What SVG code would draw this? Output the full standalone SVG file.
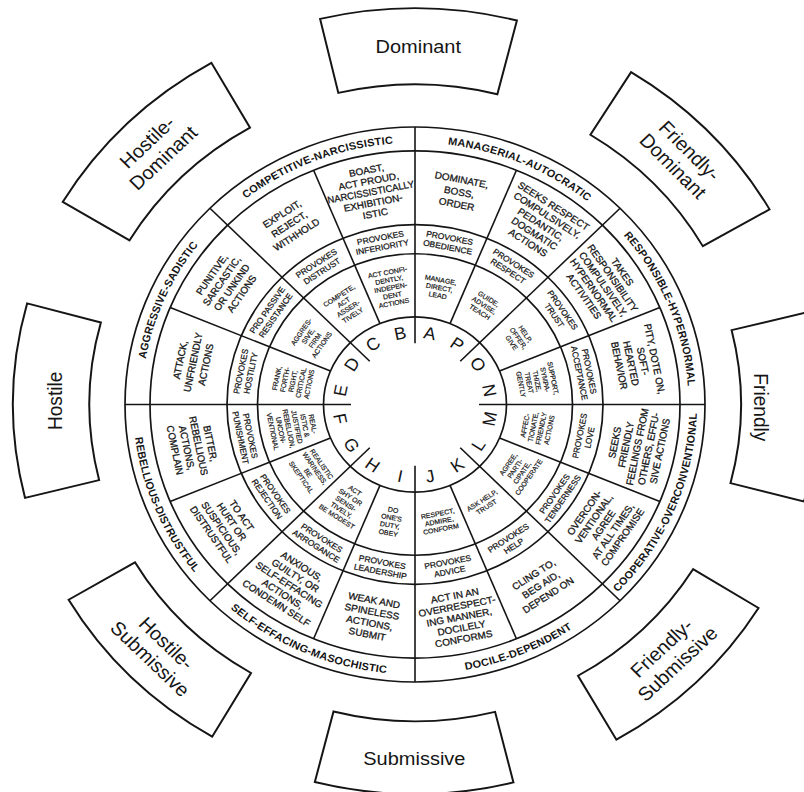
<svg xmlns="http://www.w3.org/2000/svg" xmlns:xlink="http://www.w3.org/1999/xlink" width="804" height="792" viewBox="0 0 804 792">
<defs>
<style>
text{font-family:"Liberation Sans",Arial,sans-serif;fill:#151515;text-anchor:middle}
.lt{font-size:18px}
.t1{font-size:10px;stroke:#151515;stroke-width:0.3}
.t2{font-size:8.5px;stroke:#151515;stroke-width:0.25}
.t3{font-size:7px;stroke:#151515;stroke-width:0.2}
.lab{font-size:11px;font-weight:bold;letter-spacing:0.2px}
.bt{font-size:20px}
.ln{stroke:#151515;stroke-width:1.6;fill:none}
.ring{stroke:#151515;stroke-width:1.7;fill:none}
.bx{stroke:#151515;stroke-width:2;fill:#fff}
</style>
<path id="lp1" d="M-213.70,-170.70 A273.5,273.5 0 0 1 40.90,-270.43"/>
<path id="lp2" d="M-33.33,-271.46 A273.5,273.5 0 0 1 218.43,-164.60"/>
<path id="lp3" d="M167.82,-215.96 A273.5,273.5 0 0 1 270.94,37.35"/>
<path id="lp4" d="M-271.90,29.54 A273.5,273.5 0 0 1 -161.53,-220.70"/>
<path id="lp5" d="M169.91,225.07 A282,282 0 0 0 279.87,-34.61"/>
<path id="lp6" d="M-38.52,279.36 A282,282 0 0 0 222.67,173.04"/>
<path id="lp7" d="M-226.25,168.33 A282,282 0 0 0 32.66,280.10"/>
<path id="lp8" d="M-279.77,-35.34 A282,282 0 0 0 -170.50,224.62"/>
</defs>
<rect width="804" height="792" fill="#fff"/>
<g transform="translate(415,404.5) scale(1,0.957)">

<g id="rings">
<circle class="ring" r="91.5"/>
<circle class="ring" r="157.5"/>
<circle class="ring" r="188"/>
<circle class="ring" r="265"/>
<circle class="ring" r="290"/>
</g>

<g id="connectors">
<line class="ln" x1="64" y1="0" x2="290" y2="0"/>
<line class="ln" x1="45.25" y1="-45.25" x2="205.06" y2="-205.06"/>
<line class="ln" x1="0" y1="-64" x2="0" y2="-290"/>
<line class="ln" x1="-45.25" y1="-45.25" x2="-205.06" y2="-205.06"/>
<line class="ln" x1="-64" y1="0" x2="-290" y2="0"/>
<line class="ln" x1="-45.25" y1="45.25" x2="-205.06" y2="205.06"/>
<line class="ln" x1="0" y1="64" x2="0" y2="290"/>
<line class="ln" x1="45.25" y1="45.25" x2="205.06" y2="205.06"/>
<line class="ln" x1="84.53" y1="-35.02" x2="244.83" y2="-101.41"/>
<line class="ln" x1="35.02" y1="-84.53" x2="101.41" y2="-244.83"/>
<line class="ln" x1="-35.02" y1="-84.53" x2="-101.41" y2="-244.83"/>
<line class="ln" x1="-84.53" y1="-35.02" x2="-244.83" y2="-101.41"/>
<line class="ln" x1="-84.53" y1="35.02" x2="-244.83" y2="101.41"/>
<line class="ln" x1="-35.02" y1="84.53" x2="-101.41" y2="244.83"/>
<line class="ln" x1="35.02" y1="84.53" x2="101.41" y2="244.83"/>
<line class="ln" x1="84.53" y1="35.02" x2="244.83" y2="101.41"/>
</g>

<g id="sector-A">
<text class="lt" transform="translate(14.83,-74.54) rotate(11.25)" y="6.4">A</text>
<text class="t3" transform="translate(24.29,-122.11) rotate(11.25)"><tspan x="0" y="-5.7">MANAGE,</tspan><tspan x="0" dy="8.2">DIRECT,</tspan><tspan x="0" dy="8.2">LEAD</tspan></text>
<text class="t2" transform="translate(33.70,-169.43) rotate(11.25)"><tspan x="0" y="-1.9">PROVOKES</tspan><tspan x="0" dy="10">OBEDIENCE</tspan></text>
<text class="t1" transform="translate(44.19,-222.15) rotate(11.25)"><tspan x="0" y="-9.4">DOMINATE,</tspan><tspan x="0" dy="13">BOSS,</tspan><tspan x="0" dy="13">ORDER</tspan></text>
</g>
<g id="sector-P">
<text class="lt" transform="translate(42.22,-63.19) rotate(33.75)" y="6.4">P</text>
<text class="t3" transform="translate(69.17,-103.52) rotate(33.75)"><tspan x="0" y="-5.7">GUIDE,</tspan><tspan x="0" dy="8.2">ADVISE,</tspan><tspan x="0" dy="8.2">TEACH</tspan></text>
<text class="t2" transform="translate(95.97,-143.64) rotate(33.75)"><tspan x="0" y="-1.9">PROVOKES</tspan><tspan x="0" dy="10">RESPECT</tspan></text>
<text class="t1" transform="translate(125.84,-188.33) rotate(33.75)"><tspan x="0" y="-19.4">SEEKS RESPECT</tspan><tspan x="0" dy="11.5">COMPULSIVELY,</tspan><tspan x="0" dy="11.5">PEDANTIC,</tspan><tspan x="0" dy="11.5">DOGMATIC</tspan><tspan x="0" dy="11.5">ACTIONS</tspan></text>
</g>
<g id="sector-O">
<text class="lt" transform="translate(63.19,-42.22) rotate(56.25)" y="6.4">O</text>
<text class="t3" transform="translate(103.52,-69.17) rotate(56.25)"><tspan x="0" y="-5.7">HELP,</tspan><tspan x="0" dy="8.2">OFFER,</tspan><tspan x="0" dy="8.2">GIVE</tspan></text>
<text class="t2" transform="translate(143.64,-95.97) rotate(56.25)"><tspan x="0" y="-1.9">PROVOKES</tspan><tspan x="0" dy="10">TRUST</tspan></text>
<text class="t1" transform="translate(188.33,-125.84) rotate(56.25)"><tspan x="0" y="-19.4">TAKES</tspan><tspan x="0" dy="11.5">RESPONSIBILITY</tspan><tspan x="0" dy="11.5">COMPULSIVELY,</tspan><tspan x="0" dy="11.5">HYPERNORMAL</tspan><tspan x="0" dy="11.5">ACTIVITIES</tspan></text>
</g>
<g id="sector-N">
<text class="lt" transform="translate(74.54,-14.83) rotate(78.75)" y="6.4">N</text>
<text class="t3" transform="translate(122.11,-24.29) rotate(78.75)"><tspan x="0" y="-13.9">SUPPORT,</tspan><tspan x="0" dy="8.2">SYMPA-</tspan><tspan x="0" dy="8.2">THIZE,</tspan><tspan x="0" dy="8.2">TREAT</tspan><tspan x="0" dy="8.2">GENTLY</tspan></text>
<text class="t2" transform="translate(169.43,-33.70) rotate(78.75)"><tspan x="0" y="-1.9">PROVOKES</tspan><tspan x="0" dy="10">ACCEPTANCE</tspan></text>
<text class="t1" transform="translate(222.15,-44.19) rotate(78.75)"><tspan x="0" y="-14.4">PITY, DOTE ON,</tspan><tspan x="0" dy="12">SOFT-</tspan><tspan x="0" dy="12">HEARTED</tspan><tspan x="0" dy="12">BEHAVIOR</tspan></text>
</g>
<g id="sector-M">
<text class="lt" transform="translate(74.54,14.83) rotate(-78.75)" y="6.4">M</text>
<text class="t3" transform="translate(122.11,24.29) rotate(-78.75)"><tspan x="0" y="-9.8">AFFEC-</tspan><tspan x="0" dy="8.2">TIONATE,</tspan><tspan x="0" dy="8.2">FRIENDLY</tspan><tspan x="0" dy="8.2">ACTIONS</tspan></text>
<text class="t2" transform="translate(169.43,33.70) rotate(-78.75)"><tspan x="0" y="-1.9">PROVOKES</tspan><tspan x="0" dy="10">LOVE</tspan></text>
<text class="t1" transform="translate(222.15,44.19) rotate(-78.75)"><tspan x="0" y="-19.4">SEEKS</tspan><tspan x="0" dy="11.5">FRIENDLY</tspan><tspan x="0" dy="11.5">FEELINGS FROM</tspan><tspan x="0" dy="11.5">OTHERS, EFFU-</tspan><tspan x="0" dy="11.5">SIVE ACTIONS</tspan></text>
</g>
<g id="sector-L">
<text class="lt" transform="translate(63.19,42.22) rotate(-56.25)" y="6.4">L</text>
<text class="t3" transform="translate(103.52,69.17) rotate(-56.25)"><tspan x="0" y="-9.8">AGREE,</tspan><tspan x="0" dy="8.2">PARTI-</tspan><tspan x="0" dy="8.2">CIPATE,</tspan><tspan x="0" dy="8.2">COOPERATE</tspan></text>
<text class="t2" transform="translate(143.64,95.97) rotate(-56.25)"><tspan x="0" y="-1.9">PROVOKES</tspan><tspan x="0" dy="10">TENDERNESS</tspan></text>
<text class="t1" transform="translate(188.33,125.84) rotate(-56.25)"><tspan x="0" y="-19.4">OVERCON-</tspan><tspan x="0" dy="11.5">VENTIONAL,</tspan><tspan x="0" dy="11.5">AGREE</tspan><tspan x="0" dy="11.5">AT ALL TIMES,</tspan><tspan x="0" dy="11.5">COMPROMISE</tspan></text>
</g>
<g id="sector-K">
<text class="lt" transform="translate(42.22,63.19) rotate(-33.75)" y="6.4">K</text>
<text class="t3" transform="translate(69.17,103.52) rotate(-33.75)"><tspan x="0" y="-1.6">ASK HELP,</tspan><tspan x="0" dy="8.2">TRUST</tspan></text>
<text class="t2" transform="translate(95.97,143.64) rotate(-33.75)"><tspan x="0" y="-1.9">PROVOKES</tspan><tspan x="0" dy="10">HELP</tspan></text>
<text class="t1" transform="translate(125.84,188.33) rotate(-33.75)"><tspan x="0" y="-9.4">CLING TO,</tspan><tspan x="0" dy="13">BEG AID,</tspan><tspan x="0" dy="13">DEPEND ON</tspan></text>
</g>
<g id="sector-J">
<text class="lt" transform="translate(14.83,74.54) rotate(-11.25)" y="6.4">J</text>
<text class="t3" transform="translate(24.29,122.11) rotate(-11.25)"><tspan x="0" y="-5.7">RESPECT,</tspan><tspan x="0" dy="8.2">ADMIRE,</tspan><tspan x="0" dy="8.2">CONFORM</tspan></text>
<text class="t2" transform="translate(33.70,169.43) rotate(-11.25)"><tspan x="0" y="-1.9">PROVOKES</tspan><tspan x="0" dy="10">ADVICE</tspan></text>
<text class="t1" transform="translate(44.19,222.15) rotate(-11.25)"><tspan x="0" y="-19.4">ACT IN AN</tspan><tspan x="0" dy="11.5">OVERRESPECT-</tspan><tspan x="0" dy="11.5">ING MANNER,</tspan><tspan x="0" dy="11.5">DOCILELY</tspan><tspan x="0" dy="11.5">CONFORMS</tspan></text>
</g>
<g id="sector-I">
<text class="lt" transform="translate(-14.83,74.54) rotate(11.25)" y="6.4">I</text>
<text class="t3" transform="translate(-24.29,122.11) rotate(11.25)"><tspan x="0" y="-9.8">DO</tspan><tspan x="0" dy="8.2">ONE'S</tspan><tspan x="0" dy="8.2">DUTY,</tspan><tspan x="0" dy="8.2">OBEY</tspan></text>
<text class="t2" transform="translate(-33.70,169.43) rotate(11.25)"><tspan x="0" y="-1.9">PROVOKES</tspan><tspan x="0" dy="10">LEADERSHIP</tspan></text>
<text class="t1" transform="translate(-44.19,222.15) rotate(11.25)"><tspan x="0" y="-14.4">WEAK AND</tspan><tspan x="0" dy="12">SPINELESS</tspan><tspan x="0" dy="12">ACTIONS,</tspan><tspan x="0" dy="12">SUBMIT</tspan></text>
</g>
<g id="sector-H">
<text class="lt" transform="translate(-42.22,63.19) rotate(33.75)" y="6.4">H</text>
<text class="t3" transform="translate(-69.17,103.52) rotate(33.75)"><tspan x="0" y="-13.9">ACT</tspan><tspan x="0" dy="8.2">SHY OR</tspan><tspan x="0" dy="8.2">SENSI-</tspan><tspan x="0" dy="8.2">TIVELY,</tspan><tspan x="0" dy="8.2">BE MODEST</tspan></text>
<text class="t2" transform="translate(-95.97,143.64) rotate(33.75)"><tspan x="0" y="-1.9">PROVOKES</tspan><tspan x="0" dy="10">ARROGANCE</tspan></text>
<text class="t1" transform="translate(-125.84,188.33) rotate(33.75)"><tspan x="0" y="-19.4">ANXIOUS,</tspan><tspan x="0" dy="11.5">GUILTY, OR</tspan><tspan x="0" dy="11.5">SELF-EFFACING</tspan><tspan x="0" dy="11.5">ACTIONS,</tspan><tspan x="0" dy="11.5">CONDEMN SELF</tspan></text>
</g>
<g id="sector-G">
<text class="lt" transform="translate(-63.19,42.22) rotate(56.25)" y="6.4">G</text>
<text class="t3" transform="translate(-103.52,69.17) rotate(56.25)"><tspan x="0" y="-9.8">REALISTIC</tspan><tspan x="0" dy="8.2">WARINESS,</tspan><tspan x="0" dy="8.2">BE</tspan><tspan x="0" dy="8.2">SKEPTICAL</tspan></text>
<text class="t2" transform="translate(-143.64,95.97) rotate(56.25)"><tspan x="0" y="-1.9">PROVOKES</tspan><tspan x="0" dy="10">REJECTION</tspan></text>
<text class="t1" transform="translate(-188.33,125.84) rotate(56.25)"><tspan x="0" y="-14.4">TO ACT</tspan><tspan x="0" dy="12">HURT OR</tspan><tspan x="0" dy="12">SUSPICIOUS,</tspan><tspan x="0" dy="12">DISTRUSTFUL</tspan></text>
</g>
<g id="sector-F">
<text class="lt" transform="translate(-74.54,14.83) rotate(78.75)" y="6.4">F</text>
<text class="t3" transform="translate(-122.11,24.29) rotate(78.75)"><tspan x="0" y="-18">REAL-</tspan><tspan x="0" dy="8.2">ISTIC &amp;</tspan><tspan x="0" dy="8.2">JUSTIFIED</tspan><tspan x="0" dy="8.2">REBELLION,</tspan><tspan x="0" dy="8.2">UNCON-</tspan><tspan x="0" dy="8.2">VENTIONAL</tspan></text>
<text class="t2" transform="translate(-169.43,33.70) rotate(78.75)"><tspan x="0" y="-1.9">PROVOKES</tspan><tspan x="0" dy="10">PUNISHMENT</tspan></text>
<text class="t1" transform="translate(-222.15,44.19) rotate(78.75)"><tspan x="0" y="-14.4">BITTER,</tspan><tspan x="0" dy="12">REBELLIOUS</tspan><tspan x="0" dy="12">ACTIONS,</tspan><tspan x="0" dy="12">COMPLAIN</tspan></text>
</g>
<g id="sector-E">
<text class="lt" transform="translate(-74.54,-14.83) rotate(-78.75)" y="6.4">E</text>
<text class="t3" transform="translate(-122.11,-24.29) rotate(-78.75)"><tspan x="0" y="-13.9">FRANK,</tspan><tspan x="0" dy="8.2">FORTH-</tspan><tspan x="0" dy="8.2">RIGHT,</tspan><tspan x="0" dy="8.2">CRITICAL</tspan><tspan x="0" dy="8.2">ACTIONS</tspan></text>
<text class="t2" transform="translate(-169.43,-33.70) rotate(-78.75)"><tspan x="0" y="-1.9">PROVOKES</tspan><tspan x="0" dy="10">HOSTILITY</tspan></text>
<text class="t1" transform="translate(-222.15,-44.19) rotate(-78.75)"><tspan x="0" y="-9.4">ATTACK,</tspan><tspan x="0" dy="13">UNFRIENDLY</tspan><tspan x="0" dy="13">ACTIONS</tspan></text>
</g>
<g id="sector-D">
<text class="lt" transform="translate(-63.19,-42.22) rotate(-56.25)" y="6.4">D</text>
<text class="t3" transform="translate(-103.52,-69.17) rotate(-56.25)"><tspan x="0" y="-9.8">AGGRES-</tspan><tspan x="0" dy="8.2">SIVE,</tspan><tspan x="0" dy="8.2">FIRM</tspan><tspan x="0" dy="8.2">ACTIONS</tspan></text>
<text class="t2" transform="translate(-143.64,-95.97) rotate(-56.25)"><tspan x="0" y="-1.9">PRO PASSIVE</tspan><tspan x="0" dy="10">RESISTANCE</tspan></text>
<text class="t1" transform="translate(-188.33,-125.84) rotate(-56.25)"><tspan x="0" y="-14.4">PUNITIVE,</tspan><tspan x="0" dy="12">SARCASTIC,</tspan><tspan x="0" dy="12">OR UNKIND</tspan><tspan x="0" dy="12">ACTIONS</tspan></text>
</g>
<g id="sector-C">
<text class="lt" transform="translate(-42.22,-63.19) rotate(-33.75)" y="6.4">C</text>
<text class="t3" transform="translate(-69.17,-103.52) rotate(-33.75)"><tspan x="0" y="-9.8">COMPETE,</tspan><tspan x="0" dy="8.2">ACT</tspan><tspan x="0" dy="8.2">ASSER-</tspan><tspan x="0" dy="8.2">TIVELY</tspan></text>
<text class="t2" transform="translate(-95.97,-143.64) rotate(-33.75)"><tspan x="0" y="-1.9">PROVOKES</tspan><tspan x="0" dy="10">DISTRUST</tspan></text>
<text class="t1" transform="translate(-125.84,-188.33) rotate(-33.75)"><tspan x="0" y="-9.4">EXPLOIT,</tspan><tspan x="0" dy="13">REJECT,</tspan><tspan x="0" dy="13">WITHHOLD</tspan></text>
</g>
<g id="sector-B">
<text class="lt" transform="translate(-14.83,-74.54) rotate(-11.25)" y="6.4">B</text>
<text class="t3" transform="translate(-24.29,-122.11) rotate(-11.25)"><tspan x="0" y="-13.9">ACT CONFI-</tspan><tspan x="0" dy="8.2">DENTLY,</tspan><tspan x="0" dy="8.2">INDEPEN-</tspan><tspan x="0" dy="8.2">DENT</tspan><tspan x="0" dy="8.2">ACTIONS</tspan></text>
<text class="t2" transform="translate(-33.70,-169.43) rotate(-11.25)"><tspan x="0" y="-1.9">PROVOKES</tspan><tspan x="0" dy="10">INFERIORITY</tspan></text>
<text class="t1" transform="translate(-44.19,-222.15) rotate(-11.25)"><tspan x="0" y="-19.4">BOAST,</tspan><tspan x="0" dy="11.5">ACT PROUD,</tspan><tspan x="0" dy="11.5" textLength="88" lengthAdjust="spacingAndGlyphs">NARCISSISTICALLY</tspan><tspan x="0" dy="11.5">EXHIBITION-</tspan><tspan x="0" dy="11.5">ISTIC</tspan></text>
</g>

<g id="octant-labels">
<text class="lab"><textPath href="#lp1" xlink:href="#lp1" startOffset="50%">COMPETITIVE-NARCISSISTIC</textPath></text>
<text class="lab"><textPath href="#lp2" xlink:href="#lp2" startOffset="50%">MANAGERIAL-AUTOCRATIC</textPath></text>
<text class="lab"><textPath href="#lp3" xlink:href="#lp3" startOffset="50%">RESPONSIBLE-HYPERNORMAL</textPath></text>
<text class="lab"><textPath href="#lp4" xlink:href="#lp4" startOffset="50%">AGGRESSIVE-SADISTIC</textPath></text>
<text class="lab"><textPath href="#lp5" xlink:href="#lp5" startOffset="50%">COOPERATIVE-OVERCONVENTIONAL</textPath></text>
<text class="lab"><textPath href="#lp6" xlink:href="#lp6" startOffset="50%">DOCILE-DEPENDENT</textPath></text>
<text class="lab"><textPath href="#lp7" xlink:href="#lp7" startOffset="50%">SELF-EFFACING-MASOCHISTIC</textPath></text>
<text class="lab"><textPath href="#lp8" xlink:href="#lp8" startOffset="50%">REBELLIOUS-DISTRUSTFUL</textPath></text>
</g>

<g id="box-dominant">
<path class="bx" d="M-94.89,-402.98 A414,414 0 0 1 101.91,-401.26 L82.34,-324.21 A334.5,334.5 0 0 0 -76.67,-325.60 Z"/>
<text class="bt" transform="translate(3.26,-374)" y="7.2">Dominant</text>
</g>
<g id="box-friendly-dominant">
<path class="bx" d="M216.07,-347.27 A409,409 0 0 1 354.56,-203.88 L287.81,-165.50 A332,332 0 0 0 175.39,-281.89 Z"/>
<text class="bt" transform="translate(266.52,-257.37) rotate(46)"><tspan x="0" y="-4.3">Friendly-</tspan><tspan x="0" dy="23">Dominant</tspan></text>
</g>
<g id="box-friendly">
<path class="bx" d="M390.39,-95.89 A402,402 0 0 1 389.02,101.33 L315.47,82.17 A326,326 0 0 0 316.59,-77.76 Z"/>
<text class="bt" transform="translate(346,3) rotate(90)" y="7.2">Friendly</text>
</g>
<g id="box-friendly-submissive">
<path class="bx" d="M343.54,212.59 A404,404 0 0 1 201.39,350.23 L163.01,283.48 A327,327 0 0 0 278.06,172.07 Z"/>
<text class="bt" transform="translate(254.36,262.48) rotate(-44.1)"><tspan x="0" y="-4.3">Friendly-</tspan><tspan x="0" dy="23">Submissive</tspan></text>
</g>
<g id="box-submissive">
<path class="bx" d="M98.46,394.91 A407,407 0 0 1 -100.18,394.48 L-81.48,320.81 A331,331 0 0 0 80.08,321.17 Z"/>
<text class="bt" transform="translate(-0.64,369)" y="7.2">Submissive</text>
</g>
<g id="box-hostile-submissive">
<path class="bx" d="M-202.83,347.09 A402,402 0 0 1 -346.38,204.03 L-280.03,164.95 A325,325 0 0 0 -163.98,280.61 Z"/>
<text class="bt" transform="translate(-256.58,257.48) rotate(44.9)"><tspan x="0" y="-4.3">Hostile-</tspan><tspan x="0" dy="23">Submissive</tspan></text>
</g>
<g id="box-hostile">
<path class="bx" d="M-389.97,97.59 A402,402 0 0 1 -387.85,-105.74 L-314.14,-85.64 A325.6,325.6 0 0 0 -315.85,79.05 Z"/>
<text class="bt" transform="translate(-360,-3.77) rotate(-90)" y="7.2">Hostile</text>
</g>
<g id="box-hostile-dominant">
<path class="bx" d="M-352.30,-211.68 A411,411 0 0 1 -203.63,-357.01 L-164.99,-289.25 A333,333 0 0 0 -285.44,-171.51 Z"/>
<text class="bt" transform="translate(-259.96,-266.09) rotate(-44.35)"><tspan x="0" y="-4.3">Hostile-</tspan><tspan x="0" dy="23">Dominant</tspan></text>
</g>

</g>
</svg>
